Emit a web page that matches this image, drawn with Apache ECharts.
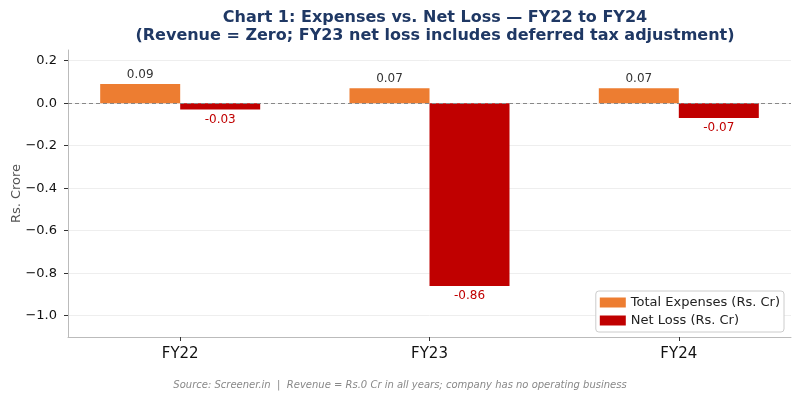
<!DOCTYPE html>
<html style="height: 100%">
<head>
    <meta charset="utf-8">
    <script src="https://cdn.jsdelivr.net/npm/echarts@6/dist/echarts.min.js"></script>
</head>
<body style="height: 100%; margin: 0; background: #fff">
<div id="main" style="width: 800px; height: 400px;"></div>
<script type="text/javascript">
    const years = ['FY22', 'FY23', 'FY24'];
    const expenses = [0.09, 0.07, 0.07];
    const netLoss = [-0.03, -0.86, -0.07];
    const yTicks = [0.2, 0.0, -0.2, -0.4, -0.6, -0.8, -1.0];

    const font = 'DejaVu Sans';
    const chart = echarts.init(document.getElementById('main'));

    const option = {
        animation: false,
        textStyle: { fontFamily: font },
        title: {
            text: 'Chart 1: Expenses vs. Net Loss — FY22 to FY24\n(Revenue = Zero; FY23 net loss includes deferred tax adjustment)',
            left: 430,
            top: 4,
            textAlign: 'center',
            textStyle: { fontFamily: font, fontSize: 16, fontWeight: 'bold', color: '#1f3864', lineHeight: 18 }
        },
        graphic: [{
            type: 'text',
            left: 'center',
            top: 380,
            style: {
                text: 'Source: Screener.in  |  Revenue = Rs.0 Cr in all years; company has no operating business',
                fontFamily: font, fontSize: 10, fontStyle: 'italic', fill: '#888'
            }
        }],
        legend: {
            orient: 'vertical',
            right: 16,
            bottom: 68,
            icon: 'rect',
            itemWidth: 26,
            itemHeight: 10,
            itemGap: 5,
            padding: [5, 4, 5, 4],
            backgroundColor: '#fff',
            borderColor: '#ccc',
            borderWidth: 1,
            borderRadius: 3,
            textStyle: { fontFamily: font, fontSize: 13, color: '#222' },
            data: ['Total Expenses (Rs. Cr)', 'Net Loss (Rs. Cr)']
        },
        grid: { left: 68, right: 9, top: 50, bottom: 63, outerBoundsMode: 'none', containLabel: false },
        xAxis: {
            type: 'value',
            min: -0.45,
            max: 2.45,
            axisLine: { show: true, onZero: false, lineStyle: { color: '#bbb' } },
            axisTick: { show: true, length: 4, customValues: [0, 1, 2], lineStyle: { color: '#333' } },
            axisLabel: {
                customValues: [0, 1, 2],
                fontSize: 15, color: '#111', margin: 10,
                formatter: function (v) { return years[Math.round(v)]; }
            },
            splitLine: { show: false }
        },
        yAxis: {
            type: 'value',
            min: -1.1,
            max: 0.25,
            name: 'Rs. Crore',
            nameLocation: 'middle',
            nameGap: 45,
            nameMoveOverlap: false,
            nameTextStyle: { fontFamily: font, fontSize: 13, color: '#555' },
            axisLine: { show: true, onZero: false, lineStyle: { color: '#bbb' } },
            axisTick: { show: true, length: 4, customValues: yTicks, lineStyle: { color: '#333' } },
            axisLabel: {
                customValues: yTicks,
                fontSize: 13, color: '#111', margin: 11,
                formatter: function (v) { return v.toFixed(1).replace('-', '\u2212'); }
            },
            splitLine: { show: true, lineStyle: { color: '#eeeeee' } }
        },
        series: [{
            name: 'Total Expenses (Rs. Cr)',
            type: 'bar',
            barWidth: 80,
            barGap: 0,
            itemStyle: { color: '#ed7d31' },
            label: {
                show: true, position: 'top', distance: 3,
                fontSize: 12, color: '#333',
                formatter: function (p) { return p.value[1].toFixed(2); }
            },
            data: expenses.map(function (v, i) { return [i, v]; }),
            markLine: {
                silent: true,
                symbol: 'none',
                label: { show: false },
                lineStyle: { color: '#888', type: [4, 3], width: 1 },
                data: [{ yAxis: 0 }]
            }
        }, {
            name: 'Net Loss (Rs. Cr)',
            type: 'bar',
            barWidth: 80,
            barGap: 0,
            itemStyle: { color: '#c00000' },
            label: {
                show: true, position: 'bottom', distance: 4,
                fontSize: 12, color: '#c00000',
                formatter: function (p) { return p.value[1].toFixed(2); }
            },
            data: netLoss.map(function (v, i) { return [i, v]; })
        }]
    };

    chart.setOption(option);
</script>
</body>
</html>
